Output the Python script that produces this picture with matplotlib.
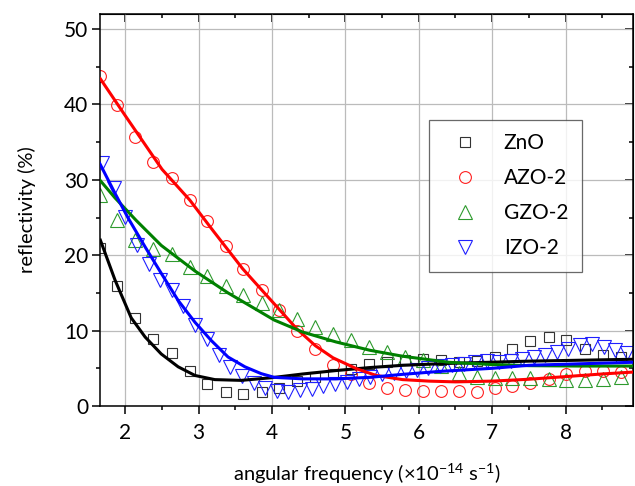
import matplotlib
matplotlib.use('Agg')
import matplotlib.pyplot as plt
from matplotlib.ticker import MultipleLocator

plt.rcParams['font.family'] = ['Lato', 'DejaVu Sans']
plt.rcParams['mathtext.fontset'] = 'custom'
plt.rcParams['mathtext.rm'] = 'Lato'
plt.rcParams['mathtext.default'] = 'regular'

# measured points (ZnO, AZO-2, GZO-2 share one grid)
freq = [1.66, 1.89, 2.13, 2.38, 2.63, 2.88, 3.12, 3.37, 3.61, 3.86,
        4.10, 4.34, 4.59, 4.83, 5.08, 5.32, 5.56, 5.81, 6.06, 6.30,
        6.55, 6.79, 7.04, 7.27, 7.52, 7.77, 8.01, 8.26, 8.51, 8.76]
zno = [20.9, 15.9, 11.7, 8.9, 7.0, 4.6, 2.95, 1.8, 1.6, 1.9,
       2.4, 3.3, 3.8, 4.3, 4.9, 5.6, 5.9, 6.1, 6.2, 6.05,
       5.8, 6.0, 6.5, 7.5, 8.6, 9.1, 8.7, 7.5, 6.8, 6.5]
azo = [43.8, 39.9, 35.7, 32.4, 30.3, 27.3, 24.5, 21.2, 18.2, 15.4,
       12.7, 9.9, 7.5, 5.5, 4.2, 3.0, 2.4, 2.1, 2.05, 2.0,
       1.95, 1.9, 2.4, 2.6, 3.05, 3.6, 4.3, 4.6, 4.6, 4.5]
gzo = [28.0, 24.7, 22.0, 20.8, 20.2, 18.5, 17.2, 15.9, 14.7, 13.7,
       12.7, 11.5, 10.5, 9.5, 8.7, 7.8, 7.2, 6.5, 6.05, 5.3,
       4.4, 3.9, 3.75, 3.7, 3.7, 3.6, 3.5, 3.5, 3.55, 3.9]

# IZO-2 was sampled more densely
freq_izo = [1.68, 1.84, 2.00, 2.16, 2.32, 2.47, 2.63, 2.79, 2.95, 3.11,
            3.27, 3.43, 3.59, 3.75, 3.91, 4.07, 4.22, 4.38, 4.54, 4.70,
            4.86, 5.02, 5.18, 5.34, 5.50, 5.66, 5.82, 5.97, 6.13, 6.29,
            6.45, 6.61, 6.77, 6.93, 7.09, 7.25, 7.41, 7.57, 7.72, 7.88,
            8.04, 8.20, 8.36, 8.52, 8.68, 8.84]
izo = [32.2, 28.9, 25.1, 21.3, 18.9, 16.7, 15.4, 13.2, 10.7, 8.9,
       6.8, 5.2, 4.0, 3.0, 2.4, 2.0, 1.8, 2.1, 2.3, 2.7,
       2.95, 3.2, 3.6, 3.9, 4.2, 4.4, 4.6, 4.8, 5.0, 5.3,
       5.5, 5.6, 5.9, 6.0, 5.85, 6.0, 6.2, 6.5, 6.8, 7.1,
       7.6, 8.1, 8.2, 7.8, 7.4, 7.0]

# fitted curves
fit_zno_x = [1.66, 1.86, 2.08, 2.27, 2.49, 2.72, 2.95, 3.22, 3.58, 3.99,
             4.42, 4.87, 5.33, 5.78, 6.41, 7.5, 8.92]
fit_zno_y = [22.0, 16.7, 11.7, 9.15, 6.9, 5.2, 4.05, 3.5, 3.4, 3.75,
             4.25, 4.7, 5.1, 5.4, 5.65, 5.95, 6.2]
fit_azo_x = [1.66, 2.0, 2.5, 2.88, 3.2, 3.6, 3.9, 4.09, 4.34, 4.59,
             4.83, 5.15, 5.42, 5.78, 6.14, 6.5, 7.0, 7.5, 8.0, 8.5, 8.92]
fit_azo_y = [43.4, 38.5, 31.4, 27.3, 23.2, 18.2, 14.95, 12.9, 10.2, 8.0,
             6.4, 4.95, 4.05, 3.5, 3.3, 3.2, 3.3, 3.55, 3.9, 4.25, 4.5]
fit_gzo_x = [1.65, 1.86, 2.15, 2.49, 2.95, 3.40, 4.03, 4.42, 4.87, 5.33,
             5.78, 6.41, 7.0, 7.5, 8.2, 8.92]
fit_gzo_y = [30.0, 27.6, 24.6, 21.3, 17.9, 15.0, 11.4, 9.8, 8.5, 7.4,
             6.6, 5.8, 5.5, 5.35, 5.3, 5.3]
fit_izo_x = [1.65, 1.86, 2.04, 2.27, 2.49, 2.72, 2.95, 3.17, 3.40, 3.63,
             3.85, 4.03, 4.42, 4.87, 5.33, 5.78, 6.3, 7.0, 7.5, 8.2, 8.92]
fit_izo_y = [32.2, 28.2, 24.9, 21.1, 17.6, 14.0, 11.1, 8.7, 6.5, 5.2,
             4.3, 3.8, 3.6, 3.6, 3.8, 4.2, 4.6, 5.0, 5.4, 5.6, 5.8]

fig = plt.figure(figsize=(6.35, 4.86), dpi=100)
ax = fig.add_axes([0.1575, 0.1646, 0.8394, 0.8066])

mk = dict(linestyle='none', markerfacecolor='none', markeredgewidth=0.8)
ax.plot(freq, zno, marker='s', markersize=7.5, markeredgecolor='#333333', label='ZnO', **mk)
ax.plot(freq, azo, marker='o', markersize=8.5, markeredgecolor='#ff2020', label='AZO-2', **mk)
ax.plot(freq, gzo, marker='^', markersize=9.5, markeredgecolor='#2e9a2e', label='GZO-2', **mk)
ax.plot(freq_izo, izo, marker='v', markersize=9.5, markeredgecolor='#2020ff', label='IZO-2', **mk)

lw = 2.2
ax.plot(fit_zno_x, fit_zno_y, color='black', lw=lw, zorder=3)
ax.plot(fit_azo_x, fit_azo_y, color='#ff0000', lw=lw, zorder=3)
ax.plot(fit_gzo_x, fit_gzo_y, color='#008000', lw=lw, zorder=3)
ax.plot(fit_izo_x, fit_izo_y, color='#0000ff', lw=lw, zorder=3)

ax.set_xlim(1.655, 8.92)
ax.set_ylim(0, 52)
ax.xaxis.set_major_locator(MultipleLocator(1))
ax.xaxis.set_minor_locator(MultipleLocator(0.5))
ax.yaxis.set_major_locator(MultipleLocator(10))
ax.yaxis.set_minor_locator(MultipleLocator(5))
ax.grid(True, which='major', color='#bbbbbb', linewidth=0.9)
ax.set_axisbelow(True)

for s in ax.spines.values():
    s.set_linewidth(1.1)
ax.tick_params(which='both', labelsize=15, width=1.1, color='black')
ax.tick_params(which='major', length=5.5)
ax.tick_params(which='minor', length=3)
ax.tick_params(axis='x', pad=7)
ax.tick_params(axis='y', pad=3)

# inward ticks on top and right
ax2 = ax.secondary_xaxis('top')
ax2.set_xticks(range(2, 9))
ax2.xaxis.set_minor_locator(MultipleLocator(0.5))
ax2.tick_params(which='both', direction='in', labeltop=False, width=1.1)
ax2.tick_params(which='major', length=5.5)
ax2.tick_params(which='minor', length=3)
ax3 = ax.secondary_yaxis('right')
ax3.yaxis.set_major_locator(MultipleLocator(10))
ax3.yaxis.set_minor_locator(MultipleLocator(5))
ax3.tick_params(which='both', direction='in', labelright=False, width=1.1)
ax3.tick_params(which='major', length=5.5)
ax3.tick_params(which='minor', length=3)

ax.set_xlabel(r'angular frequency ($\times$10$^{-14}$ s$^{-1}$)', fontsize=14.5, labelpad=13)
ax.set_ylabel('reflectivity (%)', fontsize=14.5, labelpad=20)

leg = ax.legend(loc='upper left', bbox_to_anchor=(0.617, 0.73), borderaxespad=0,
                fontsize=15, frameon=True, fancybox=False, edgecolor='#444444',
                handlelength=2.2, handletextpad=0.75, labelspacing=0.72, borderpad=0.65)
leg.get_frame().set_linewidth(0.9)

fig.savefig('out.png', dpi=100)
